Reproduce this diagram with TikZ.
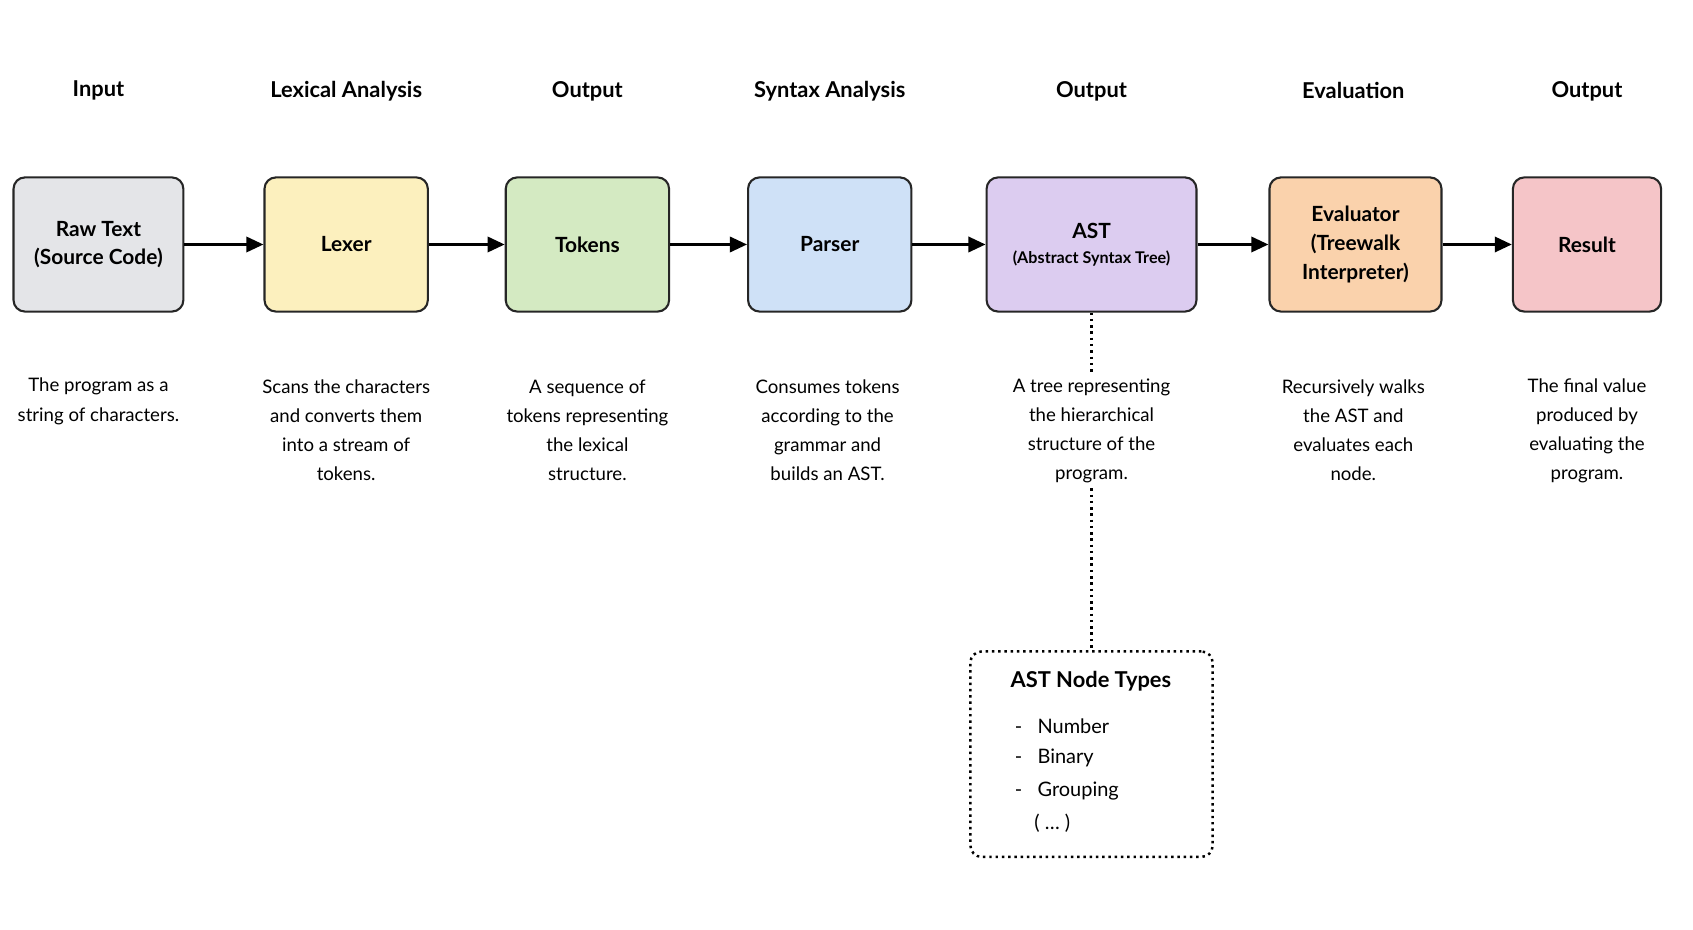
\documentclass[tikz,border=0pt]{standalone}
\usepackage{fontspec}
\setmainfont{Lato}
\usetikzlibrary{arrows.meta,backgrounds}
\definecolor{cgray}{HTML}{E4E5E8}
\definecolor{cyellow}{HTML}{FCF0BE}
\definecolor{cgreen}{HTML}{D4EAC2}
\definecolor{cblue}{HTML}{CFE1F7}
\definecolor{cpurple}{HTML}{DCCCF0}
\definecolor{corange}{HTML}{FAD2AC}
\definecolor{cpink}{HTML}{F5C5C8}
\begin{document}
\begin{tikzpicture}[x=0.02cm,y=-0.02cm,
    stage/.style={draw=black!85, line width=1.1pt, rounded corners=6pt, align=center,
      font=\bfseries\fontsize{11}{15}\selectfont, inner sep=0pt},
    title/.style={font=\bfseries\fontsize{11.5}{14}\selectfont},
    desc/.style={align=center, fill=white, inner sep=2pt, font=\fontsize{9.8}{15.3}\selectfont},
    flow/.style={-{Triangle[length=9pt,width=8pt]}, line width=1.5pt}]
  \useasboundingbox (0,0) rectangle (1565,859);
  % stages
  \node[stage, fill=cgray, minimum width=157*0.02cm, minimum height=124*0.02cm] (raw) at (91,226) {Raw Text\\(Source Code)};
  \node[stage, fill=cyellow, minimum width=151*0.02cm, minimum height=124*0.02cm] (lexer) at (320,226) {Lexer};
  \node[stage, fill=cgreen, minimum width=151*0.02cm, minimum height=124*0.02cm] (tokens) at (543,226) {Tokens};
  \node[stage, fill=cblue, minimum width=151*0.02cm, minimum height=124*0.02cm] (parser) at (767,226) {Parser};
  \node[stage, fill=cpurple, minimum width=194*0.02cm, minimum height=124*0.02cm] (ast) at (1009,226) {AST\\[-2pt]{\fontsize{8.5}{11}\selectfont (Abstract Syntax Tree)}};
  \node[stage, fill=corange, minimum width=159*0.02cm, minimum height=124*0.02cm] (eval) at (1253,226) {Evaluator\\(Treewalk\\Interpreter)};
  \node[stage, fill=cpink, minimum width=137*0.02cm, minimum height=124*0.02cm] (result) at (1467,226) {Result};

  % titles
  \node[title] (t1) at (91,84) {Input};
  \node[title] (t2) at (320,84) {Lexical Analysis};
  \node[title] (t3) at (543,84) {Output};
  \node[title] (t4) at (767,84) {Syntax Analysis};
  \node[title] (t5) at (1009,84) {Output};
  \node[title] (t6) at (1251,84) {Evaluation};
  \node[title] (t7) at (1467,84) {Output};

  % descriptions
  \node[desc] (d1) at (91,371) {The program as a\\string of characters.};
  \node[desc] (d2) at (320,398) {Scans the characters\\and converts them\\into a stream of\\tokens.};
  \node[desc] (d3) at (543,398) {A sequence of\\tokens representing\\the lexical\\structure.};
  \node[desc] (d4) at (765,398) {Consumes tokens\\according to the\\grammar and\\builds an AST.};
  \node[desc] (d5) at (1009,398) {A tree representing\\the hierarchical\\structure of the\\program.};
  \node[desc] (d6) at (1251,398) {Recursively walks\\the AST and\\evaluates each\\node.};
  \node[desc] (d7) at (1467,398) {The final value\\produced by\\evaluating the\\program.};

  % node types
  \node[draw, dotted, line width=1.3pt, rounded corners=6pt, minimum width=224*0.02cm,
    minimum height=190*0.02cm, anchor=north] (types) at (1009,601) {};
  \node[title, anchor=west] (typeshead) at (928,630) {AST Node Types};
  \node[anchor=west, font=\fontsize{10.5}{14}\selectfont] (n1) at (932,671) {-\hspace{8pt}Number};
  \node[anchor=west, font=\fontsize{10.5}{14}\selectfont] (n2) at (932,701) {-\hspace{8pt}Binary};
  \node[anchor=west, font=\fontsize{10.5}{14}\selectfont] (n3) at (932,731) {-\hspace{8pt}Grouping};
  \node[anchor=west, font=\fontsize{10.5}{14}\selectfont] (n4) at (950,761) {( \dots\ )};

  \begin{scope}[on background layer]
    \draw[dotted, line width=1.3pt] (ast) -- (types);
  \end{scope}

  % flow
  \draw[flow] (raw) -- (lexer);
  \draw[flow] (lexer) -- (tokens);
  \draw[flow] (tokens) -- (parser);
  \draw[flow] (parser) -- (ast);
  \draw[flow] (ast) -- (eval);
  \draw[flow] (eval) -- (result);
\end{tikzpicture}
\end{document}
